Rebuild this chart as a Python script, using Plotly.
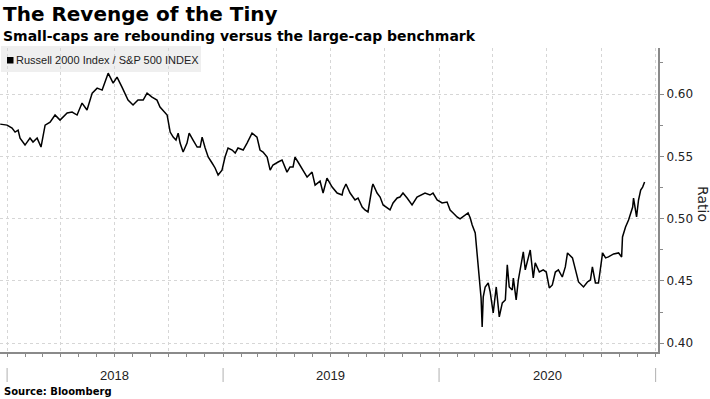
import pandas as pd
import plotly.graph_objects as go

# ---- data (decimal years, ratio values) ----
dec_years = [
    2017.968, 2018.000, 2018.023, 2018.037, 2018.051, 2018.060, 2018.083, 2018.106, 2018.120, 2018.139,
    2018.157, 2018.176, 2018.199, 2018.222, 2018.245, 2018.278, 2018.301, 2018.324, 2018.347, 2018.370,
    2018.394, 2018.417, 2018.440, 2018.468, 2018.491, 2018.509, 2018.532, 2018.560, 2018.583, 2018.606,
    2018.630, 2018.648, 2018.671, 2018.694, 2018.708, 2018.731, 2018.741, 2018.755, 2018.769, 2018.782,
    2018.792, 2018.801, 2018.815, 2018.833, 2018.843, 2018.861, 2018.880, 2018.894, 2018.903, 2018.917,
    2018.931, 2018.949, 2018.963, 2018.977, 2018.995, 2019.009, 2019.023, 2019.042, 2019.056, 2019.069,
    2019.093, 2019.111, 2019.134, 2019.157, 2019.171, 2019.185, 2019.204, 2019.218, 2019.231, 2019.255,
    2019.273, 2019.296, 2019.310, 2019.324, 2019.333, 2019.347, 2019.370, 2019.389, 2019.412, 2019.426,
    2019.449, 2019.463, 2019.481, 2019.505, 2019.528, 2019.551, 2019.556, 2019.569, 2019.588, 2019.611,
    2019.625, 2019.644, 2019.657, 2019.671, 2019.690, 2019.694, 2019.713, 2019.727, 2019.741, 2019.759,
    2019.773, 2019.787, 2019.806, 2019.819, 2019.833, 2019.852, 2019.875, 2019.898, 2019.921, 2019.935,
    2019.958, 2019.972, 2019.991, 2020.014, 2020.037, 2020.051, 2020.065, 2020.083, 2020.097, 2020.111,
    2020.134, 2020.144, 2020.153, 2020.167, 2020.181, 2020.194, 2020.199, 2020.204, 2020.213, 2020.227,
    2020.236, 2020.250, 2020.264, 2020.278, 2020.292, 2020.306, 2020.315, 2020.324, 2020.338, 2020.343,
    2020.356, 2020.366, 2020.389, 2020.398, 2020.421, 2020.435, 2020.444, 2020.463, 2020.481, 2020.495,
    2020.509, 2020.523, 2020.537, 2020.551, 2020.569, 2020.583, 2020.593, 2020.616, 2020.630, 2020.644,
    2020.667, 2020.685, 2020.699, 2020.708, 2020.722, 2020.736, 2020.755, 2020.769, 2020.782, 2020.806,
    2020.829, 2020.843, 2020.847, 2020.861, 2020.875, 2020.894, 2020.898, 2020.912, 2020.921, 2020.931,
    2020.940, 2020.949,
]

ratio = [
    0.5759, 0.5751, 0.5727, 0.5695, 0.5711, 0.5647, 0.5591, 0.5647, 0.5615, 0.5647,
    0.5575, 0.5751, 0.5775, 0.5832, 0.5791, 0.5848, 0.5856, 0.5832, 0.5928, 0.5872,
    0.6008, 0.6048, 0.6032, 0.6168, 0.6088, 0.6136, 0.6056, 0.5952, 0.5912, 0.5952,
    0.5952, 0.6008, 0.5976, 0.5952, 0.5896, 0.5856, 0.5832, 0.5695, 0.5655, 0.5631,
    0.5687, 0.5607, 0.5535, 0.5607, 0.5687, 0.5631, 0.5575, 0.5575, 0.5655, 0.5567,
    0.5495, 0.5447, 0.5407, 0.5350, 0.5390, 0.5495, 0.5567, 0.5551, 0.5527, 0.5567,
    0.5551, 0.5607, 0.5687, 0.5655, 0.5551, 0.5535, 0.5495, 0.5390, 0.5431, 0.5455,
    0.5471, 0.5374, 0.5415, 0.5415, 0.5495, 0.5455, 0.5390, 0.5334, 0.5374, 0.5270,
    0.5302, 0.5206, 0.5326, 0.5254, 0.5206, 0.5190, 0.5230, 0.5278, 0.5206, 0.5150,
    0.5166, 0.5094, 0.5070, 0.5054, 0.5254, 0.5278, 0.5206, 0.5174, 0.5110, 0.5086,
    0.5070, 0.5126, 0.5166, 0.5174, 0.5206, 0.5166, 0.5110, 0.5174, 0.5190, 0.5206,
    0.5190, 0.5206, 0.5150, 0.5126, 0.5134, 0.5070, 0.5046, 0.5014, 0.4998, 0.5014,
    0.5046, 0.5006, 0.4949, 0.4885, 0.4613, 0.4364, 0.4131, 0.4372, 0.4452, 0.4484,
    0.4412, 0.4244, 0.4452, 0.4212, 0.4324, 0.4348, 0.4629, 0.4452, 0.4428, 0.4524,
    0.4348, 0.4508, 0.4733, 0.4589, 0.4749, 0.4524, 0.4645, 0.4572, 0.4589, 0.4572,
    0.4444, 0.4468, 0.4572, 0.4589, 0.4532, 0.4613, 0.4725, 0.4685, 0.4589, 0.4492,
    0.4452, 0.4492, 0.4508, 0.4613, 0.4484, 0.4484, 0.4725, 0.4685, 0.4693, 0.4717,
    0.4725, 0.4693, 0.4853, 0.4933, 0.4990, 0.5094, 0.5166, 0.5014, 0.5150, 0.5230,
    0.5254, 0.5294,
]

year_labels = ["2018", "2019", "2020"]
year_starts = ["2018-01-01", "2019-01-01", "2020-01-01", "2021-01-01"]
year_mids = ["2018-07-02", "2019-07-02", "2020-07-02"]
y_ticks = [0.40, 0.45, 0.50, 0.55, 0.60]

title = "The Revenge of the Tiny"
subtitle = "Small-caps are rebounding versus the large-cap benchmark"
series_name = "Russell 2000 Index / S&P 500 INDEX"
source = "Source: Bloomberg"


def to_date(t):
    y = int(t)
    start = pd.Timestamp(year=y, month=1, day=1)
    end = pd.Timestamp(year=y + 1, month=1, day=1)
    return start + (end - start) * (t - y)


dates = [to_date(t) for t in dec_years]

W, H = 710, 399
ML, MR, MT, MB = 0, 52, 48, 47
PH = H - MT - MB
PW = W - ML - MR


def py(ypx):
    return (H - MB - ypx) / PH


def px(xpx):
    return (xpx - ML) / PW


fig = go.Figure()
fig.add_trace(go.Scatter(
    x=dates, y=ratio, mode="lines", name=series_name,
    line=dict(color="#000000", width=1.5), showlegend=False,
))

axis_col = "#8a8a8a"
grid_col = "#d6d6d6"

fig.update_layout(
    width=W, height=H,
    margin=dict(l=ML, r=MR, t=MT, b=MB),
    paper_bgcolor="#ffffff", plot_bgcolor="#ffffff",
    font=dict(family="DejaVu Sans", size=12, color="#222222"),
    xaxis=dict(
        type="date",
        range=["2017-12-20", "2021-01-05"],
        showline=True, linecolor=axis_col, linewidth=2,
        ticks="outside", ticklen=3, tickcolor=axis_col, tickwidth=1,
        dtick="M3", tick0="2018-01-01",
        showgrid=True, gridcolor=grid_col, griddash="dot", gridwidth=1,
        showticklabels=False, zeroline=False,
        minor=dict(dtick="M1", tick0="2018-01-01", ticks="outside", ticklen=3,
                   tickcolor=axis_col, showgrid=False),
    ),
    yaxis=dict(
        side="right", range=[0.393, 0.637],
        showline=True, linecolor=axis_col, linewidth=2,
        ticks="outside", ticklen=4, tickcolor=axis_col, tickwidth=1,
        tickvals=y_ticks, tickformat=".2f",
        tickfont=dict(family="DejaVu Sans", size=12, color="#222222"),
        showgrid=True, gridcolor=grid_col, griddash="dot", gridwidth=1,
        zeroline=False,
        minor=dict(dtick=0.025, tick0=0.4, ticks="outside", ticklen=3,
                   tickcolor=axis_col, showgrid=False),
    ),
)

shapes = []
# legend background box
shapes.append(dict(type="rect", xref="paper", yref="paper",
                   x0=px(1), x1=px(201), y0=py(72), y1=py(46),
                   fillcolor="#efefef", line=dict(width=0), layer="below"))
# legend square marker
shapes.append(dict(type="rect", xref="paper", yref="paper",
                   x0=px(7), x1=px(13.5), y0=py(63.5), y1=py(57),
                   fillcolor="#000000", line=dict(width=0), layer="above"))
# year separators below the axis
for d in year_starts:
    shapes.append(dict(type="line", xref="x", yref="paper",
                       x0=d, x1=d, y0=py(368), y1=py(382),
                       line=dict(color="#b0b0b0", width=1)))
fig.update_layout(shapes=shapes)

ann = []
ann.append(dict(text="<b>" + title + "</b>", xref="paper", yref="paper",
                x=px(1), y=py(14), xanchor="left", yanchor="middle", showarrow=False,
                font=dict(family="DejaVu Sans", size=20, color="#000000")))
ann.append(dict(text="<b>" + subtitle + "</b>", xref="paper", yref="paper",
                x=px(1), y=py(36), xanchor="left", yanchor="middle", showarrow=False,
                font=dict(family="DejaVu Sans", size=14, color="#000000")))
ann.append(dict(text=series_name, xref="paper", yref="paper",
                x=px(14), y=py(60), xanchor="left", yanchor="middle", showarrow=False,
                font=dict(family="Liberation Sans", size=11, color="#222222")))
for lab, d in zip(year_labels, year_mids):
    ann.append(dict(text=lab, xref="x", yref="paper", x=d, y=py(375),
                    xanchor="center", yanchor="middle", showarrow=False,
                    font=dict(family="Liberation Sans", size=13, color="#222222")))
ann.append(dict(text="Ratio", xref="paper", yref="paper", x=px(693), y=py(204),
                xanchor="left", yanchor="middle", textangle=90, showarrow=False,
                font=dict(family="DejaVu Sans", size=14, color="#222222")))
ann.append(dict(text="<b>" + source + "</b>", xref="paper", yref="paper",
                x=px(2), y=py(391), xanchor="left", yanchor="middle", showarrow=False,
                font=dict(family="DejaVu Sans", size=10, color="#000000")))
fig.update_layout(annotations=ann)

fig.write_html("out.html", config={"displayModeBar": False},
               post_script="document.body.style.margin='0';")
